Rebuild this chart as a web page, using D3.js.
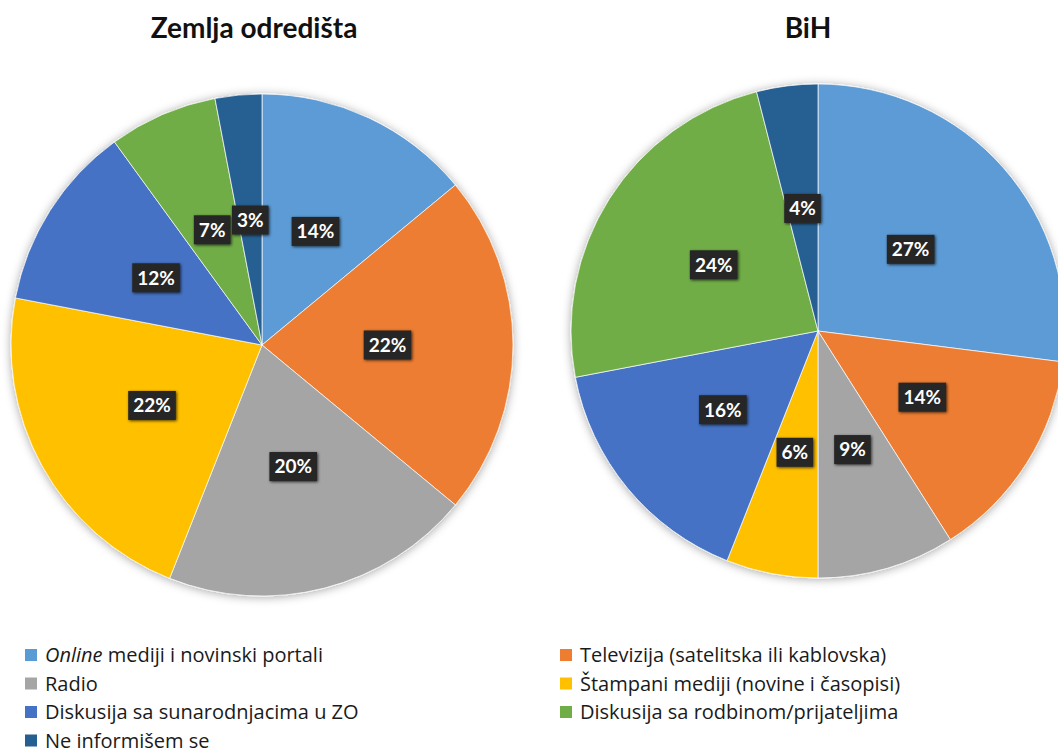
<!DOCTYPE html>
<html>
<head>
<meta charset="utf-8">
<script src="https://cdn.jsdelivr.net/npm/d3@7"></script>
<style>
  html, body { margin: 0; padding: 0; background: #ffffff; }
  svg { display: block; }
</style>
</head>
<body>
<svg id="chart" width="1058" height="754"></svg>
<script>
// Information sources, shares in percent (same category order in both pies)
const categories = [
  "Online mediji i novinski portali",
  "Televizija (satelitska ili kablovska)",
  "Radio",
  "Štampani mediji (novine i časopisi)",
  "Diskusija sa sunarodnjacima u ZO",
  "Diskusija sa rodbinom/prijateljima",
  "Ne informišem se"
];
const destinationValues = [14, 22, 20, 22, 12, 7, 3];
const bihValues = [27, 14, 9, 6, 16, 24, 4];
const chartTitles = ["Zemlja odredišta", "BiH"];
const sliceColors = ["#5b9bd5", "#ed7d31", "#a5a5a5", "#ffc000", "#4472c4", "#70ad47", "#255e91"];

const svg = d3.select("#chart");

const defs = svg.append("defs");
const pieShadow = defs.append("filter").attr("id", "pieShadow")
  .attr("x", "-10%").attr("y", "-10%").attr("width", "120%").attr("height", "120%");
pieShadow.append("feDropShadow").attr("dx", 0).attr("dy", 1)
  .attr("stdDeviation", 5).attr("flood-color", "#000").attr("flood-opacity", 0.35);
const boxShadow = defs.append("filter").attr("id", "boxShadow")
  .attr("x", "-40%").attr("y", "-40%").attr("width", "180%").attr("height", "180%");
boxShadow.append("feDropShadow").attr("dx", 1).attr("dy", 1)
  .attr("stdDeviation", 1.8).attr("flood-color", "#000").attr("flood-opacity", 0.7);

const color = d3.scaleOrdinal().domain(categories).range(sliceColors);
const pie = d3.pie().sort(null).value(d => d.value);

const charts = [
  { title: chartTitles[0], values: destinationValues, cx: 262, cy: 345, r: 251, titleX: 254 },
  { title: chartTitles[1], values: bihValues, cx: 818, cy: 331, r: 247, titleX: 808 }
];

charts.forEach(c => {
  const data = categories.map((name, i) => ({ name, value: c.values[i] }));
  const arcs = pie(data);
  const arc = d3.arc().innerRadius(0).outerRadius(c.r);

  svg.append("text")
    .attr("x", c.titleX).attr("y", 38)
    .attr("text-anchor", "middle")
    .attr("font-family", "Lato, 'Open Sans', sans-serif")
    .attr("font-weight", "bold")
    .attr("font-size", 28)
    .attr("fill", "#111")
    .text(c.title);

  const g = svg.append("g").attr("transform", `translate(${c.cx},${c.cy})`);
  g.append("g").attr("filter", "url(#pieShadow)")
    .selectAll("path").data(arcs).join("path")
    .attr("d", arc)
    .attr("fill", d => color(d.data.name))
    .attr("stroke", "#ffffff")
    .attr("stroke-opacity", 0.7)
    .attr("stroke-width", 1);

  const labels = g.selectAll("g.lbl").data(arcs).join("g")
    .attr("class", "lbl")
    .attr("transform", d => `translate(${arc.centroid(d)})`);
  labels.each(function(d) {
    const lg = d3.select(this);
    const rect = lg.append("rect").attr("fill", "#262626").attr("filter", "url(#boxShadow)");
    const t = lg.append("text")
      .attr("text-anchor", "middle")
      .attr("dy", "0.36em")
      .attr("font-family", "Lato, 'Open Sans', sans-serif")
      .attr("font-weight", "bold")
      .attr("font-size", 19)
      .attr("fill", "#ffffff")
      .text(d.data.value + "%");
    const bb = t.node().getBBox();
    const padX = 5, h = 29;
    rect.attr("x", -bb.width / 2 - padX).attr("y", -h / 2)
      .attr("width", bb.width + 2 * padX).attr("height", h);
  });
});

// Legend: two columns, filled row by row
const legendCols = [25, 560];
const legendRow0 = 655, legendStep = 28.5;
const legend = svg.append("g");
categories.forEach((name, i) => {
  const x = legendCols[i % 2];
  const y = legendRow0 + Math.floor(i / 2) * legendStep;
  legend.append("rect")
    .attr("x", x).attr("y", y - 6).attr("width", 12).attr("height", 12)
    .attr("fill", color(name));
  const t = legend.append("text")
    .attr("x", x + 20).attr("y", y).attr("dy", "0.35em")
    .attr("font-family", "'Open Sans', sans-serif")
    .attr("font-size", 20)
    .attr("fill", "#1a1a1a");
  if (name.startsWith("Online")) {
    t.append("tspan").attr("font-style", "italic").text("Online");
    t.append("tspan").text(name.slice("Online".length));
  } else {
    t.text(name);
  }
});
</script>
</body>
</html>
